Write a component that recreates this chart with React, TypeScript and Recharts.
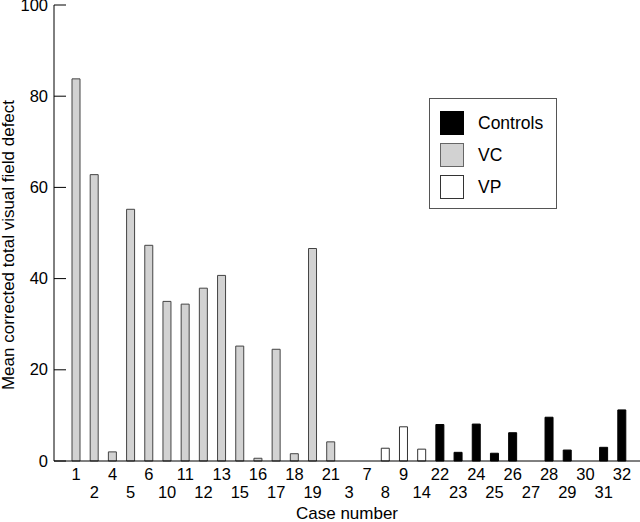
import { BarChart, Bar, XAxis, YAxis, Legend, Cell } from "recharts";

const cases = [
  "1", "2", "4", "5", "6", "10", "11", "12", "13", "15", "16", "17", "18", "19", "21",
  "3", "7", "8", "9", "14",
  "22", "23", "24", "25", "26", "27", "28", "29", "30", "31", "32",
];

const defect = [
  83.8, 62.8, 2.0, 55.2, 47.3, 35.0, 34.4, 37.9, 40.7, 25.2, 0.6, 24.5, 1.6, 46.6, 4.2,
  0, 0, 2.8, 7.5, 2.6,
  8.0, 1.9, 8.1, 1.7, 6.2, 0, 9.6, 2.4, 0, 3.0, 11.2,
];

const groupOf = [
  "VC", "VC", "VC", "VC", "VC", "VC", "VC", "VC", "VC", "VC", "VC", "VC", "VC", "VC", "VC",
  "VP", "VP", "VP", "VP", "VP",
  "Controls", "Controls", "Controls", "Controls", "Controls", "Controls",
  "Controls", "Controls", "Controls", "Controls", "Controls",
];

const yTicks = [0, 20, 40, 60, 80, 100];

const groups = [
  { name: "Controls", fill: "#000000", stroke: "#000000" },
  { name: "VC", fill: "#d2d2d2", stroke: "#444444" },
  { name: "VP", fill: "#ffffff", stroke: "#333333" },
];

const data = cases.map((c, i) => ({ name: c, value: defect[i], group: groupOf[i] }));

const FONT = "'Liberation Sans', Arial, Helvetica, sans-serif";

function XTick(props: any) {
  const { x, y, payload, index } = props;
  const row = index % 2 === 0 ? 18.5 : 36.5;
  return (
    <text x={x} y={y + row} textAnchor="middle" fontSize={16.5} fill="#000" fontFamily={FONT}>
      {payload.value}
    </text>
  );
}

function YTick(props: any) {
  const { x, y, payload } = props;
  return (
    <g>
      <line x1={x + 6} x2={x + 18} y1={y} y2={y} stroke="#000" strokeWidth={1} />
      <text x={x} y={y + 5.5} textAnchor="end" fontSize={16.5} fill="#000" fontFamily={FONT}>
        {payload.value}
      </text>
    </g>
  );
}

function LegendBox() {
  return (
    <div
      style={{
        width: 126,
        height: 109,
        border: "1px solid #555",
        background: "#fff",
        position: "relative",
        fontFamily: FONT,
        fontSize: 17.5,
      }}
    >
      {groups.map((g, i) => (
        <div key={g.name} style={{ position: "absolute", left: 10, top: 12 + i * 32, display: "flex", alignItems: "center" }}>
          <div
            style={{
              width: 22,
              height: 22,
              background: g.fill,
              border: `1px solid ${g.name === "VP" ? "#333" : g.name === "VC" ? "#666" : "#000"}`,
            }}
          />
          <span style={{ marginLeft: 14, color: "#000" }}>{g.name}</span>
        </div>
      ))}
    </div>
  );
}

export default function App() {
  return (
    <div style={{ position: "absolute", left: 0, top: 0, background: "#fff" }}>
      <BarChart
        width={640}
        height={522}
        data={data}
        margin={{ top: 5, right: 0, left: 0, bottom: 0 }}
        barCategoryGap={0}
      >
        <XAxis
          dataKey="name"
          interval={0}
          height={61}
          tickLine={false}
          tickSize={0}
          tickMargin={0}
          axisLine={{ stroke: "#000", strokeWidth: 1 }}
          padding={{ left: 13, right: 9 }}
          tick={<XTick />}
          label={{
            value: "Case number",
            position: "insideBottom",
            offset: 3,
            fontSize: 17,
            fill: "#000",
            fontFamily: FONT,
          }}
        />
        <YAxis
          width={54}
          domain={[0, 100]}
          ticks={yTicks}
          interval={0}
          tickLine={false}
          tickSize={0}
          tickMargin={6}
          axisLine={{ stroke: "#000", strokeWidth: 1 }}
          tick={<YTick />}
          label={{
            value: "Mean corrected total visual field defect",
            angle: -90,
            position: "insideLeft",
            offset: 0,
            dx: 8,
            dy: 12,
            fontSize: 17,
            fill: "#000",
            fontFamily: FONT,
            style: { textAnchor: "middle" },
          }}
        />
        <Legend
          layout="vertical"
          align="center"
          verticalAlign="middle"
          wrapperStyle={{ left: 429, top: 98, width: 128, height: 111 }}
          content={() => <LegendBox />}
        />
        <Bar dataKey="value" barSize={8} isAnimationActive={false} strokeWidth={1}>
          {data.map((d, i) => {
            const g = groups.find((gg) => gg.name === d.group)!;
            return <Cell key={`cell-${i}`} fill={g.fill} stroke={g.stroke} />;
          })}
        </Bar>
      </BarChart>
    </div>
  );
}
